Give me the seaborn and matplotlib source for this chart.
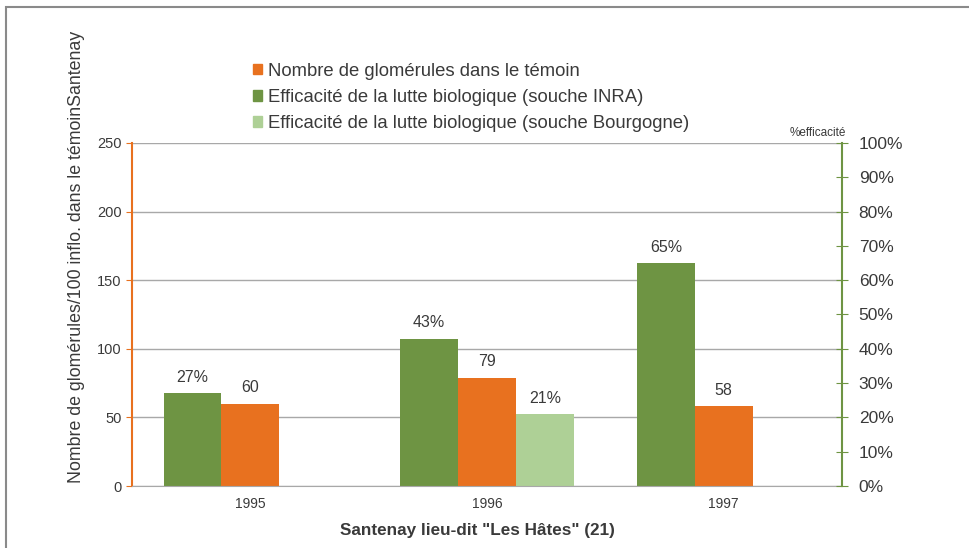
import matplotlib
matplotlib.use("Agg")
import matplotlib.pyplot as plt
from matplotlib.patches import Patch, Rectangle
from matplotlib.colors import to_rgba
from matplotlib.ticker import PercentFormatter, MultipleLocator
import numpy as np
import pandas as pd
import seaborn as sns

years = ["1995", "1996", "1997"]
nb_glomerules = [60, 79, 58]
eff_inra = [0.27, 0.43, 0.65]
eff_bourgogne = [np.nan, 0.21, np.nan]

s_nb = "Nombre de glomérules dans le témoin"
s_inra = "Efficacité de la lutte biologique (souche INRA)"
s_bourg = "Efficacité de la lutte biologique (souche Bourgogne)"
hue_order = [s_inra, s_nb, s_bourg]

c_orange = "#E8711F"
c_green = "#6E9443"
c_light = "#AED096"
palette = {s_inra: c_green, s_nb: c_orange, s_bourg: c_light}
txt = "#3A3A3A"

# left axis max (250 glomérules) corresponds to 100 % on the right axis
left_max = 250

df = pd.concat([
    pd.DataFrame({"annee": years, "serie": s_inra,
                  "valeur": np.array(eff_inra) * left_max}),
    pd.DataFrame({"annee": years, "serie": s_nb, "valeur": nb_glomerules}),
    pd.DataFrame({"annee": years, "serie": s_bourg,
                  "valeur": np.array(eff_bourgogne) * left_max}),
]).dropna()

sns.set_style("white")
plt.rcParams["font.family"] = ["Liberation Sans", "DejaVu Sans"]

fig = plt.figure(figsize=(9.7, 5.48), dpi=100)
ax = fig.add_axes([132 / 970, 62 / 548, 710 / 970, 343 / 548])

sns.barplot(data=df, x="annee", y="valeur", hue="serie", hue_order=hue_order,
            order=years, palette=palette, width=0.733, errorbar=None,
            saturation=1, legend=False, linewidth=0, ax=ax)

ax2 = ax.twinx()

# left axis
ax.set_ylim(0, left_max)
ax.set_yticks(range(0, 251, 50))
ax.yaxis.grid(True, color="#A8A8A8", linewidth=1)
ax.set_axisbelow(True)
ax.tick_params(axis="y", colors=c_orange, labelcolor=txt, labelsize=10.5,
               length=4, direction="out", left=True)
ax.tick_params(axis="x", length=0, labelsize=10, labelcolor=txt, pad=8)
ax.set_ylabel("Nombre de glomérules/100 inflo. dans le témoinSantenay",
              fontsize=12.8, color=txt)
ax.set_xlabel('Santenay lieu-dit "Les Hâtes" (21)', fontsize=12.3,
              color=txt, fontweight="bold")
ax.yaxis.set_label_coords(-0.066, 0.668)
ax.xaxis.set_label_coords(0.486, -0.108)

# right axis
ax2.set_ylim(0, 1)
ax2.yaxis.set_major_locator(MultipleLocator(0.1))
ax2.yaxis.set_major_formatter(PercentFormatter(1.0, decimals=0))
ax2.tick_params(axis="y", colors=c_green, labelcolor=txt, labelsize=12.5,
                length=8, direction="inout", right=True, pad=8)

for a in (ax, ax2):
    a.spines["top"].set_visible(False)
ax.spines["left"].set_color(c_orange)
ax.spines["left"].set_linewidth(1.5)
ax.spines["right"].set_visible(False)
ax2.spines["left"].set_visible(False)
ax2.spines["right"].set_color(c_green)
ax2.spines["right"].set_linewidth(1.5)
ax.spines["bottom"].set_color("#A8A8A8")
ax2.spines["bottom"].set_visible(False)

# value labels: raw counts for orange, percentages for the green series
for c in ax.containers:
    if len(c.patches) == 0:
        continue
    fc = c.patches[0].get_facecolor()
    if np.allclose(fc, to_rgba(c_orange)):
        fmt = "{:.0f}"
    else:
        fmt = lambda v: f"{v / left_max:.0%}"
    ax.bar_label(c, fmt=fmt, padding=6, fontsize=11.5, color=txt)

fig.text(790 / 970, 1 - 133 / 548, "%efficacité", fontsize=8.5, color=txt,
         va="center")

handles = [Patch(color=palette[s]) for s in [s_nb, s_inra, s_bourg]]
fig.legend(handles, [s_nb, s_inra, s_bourg], loc="upper left",
           bbox_to_anchor=(236 / 970, 1 - 46 / 548), frameon=False,
           fontsize=13.3, handlelength=0.5, handleheight=0.5,
           handletextpad=0.35, labelspacing=0.5, labelcolor=txt)

fig.add_artist(Rectangle((6 / 970, -0.1), 1.2, 1 - 7 / 548 + 0.1,
                         transform=fig.transFigure, fill=False,
                         edgecolor="#8A8A8A", linewidth=1.5))

fig.savefig("out.png", dpi=100)
